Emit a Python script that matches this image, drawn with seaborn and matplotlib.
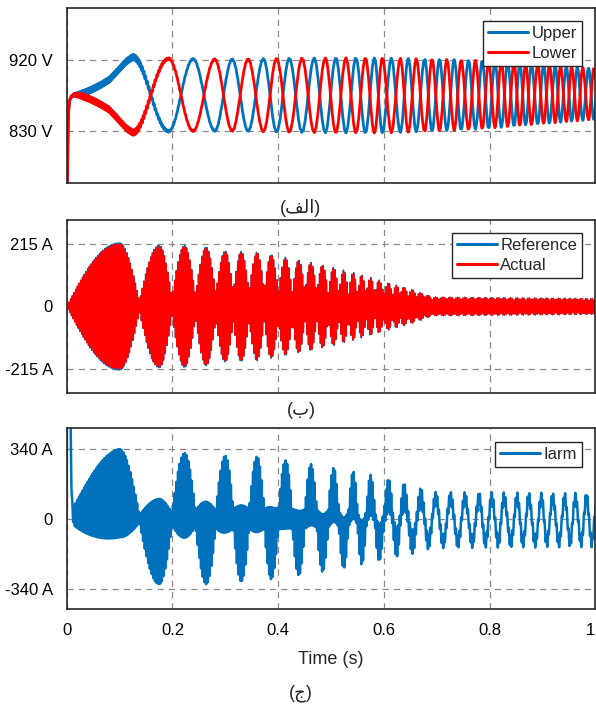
import numpy as np
import pandas as pd
import matplotlib
matplotlib.use('Agg')
import matplotlib.pyplot as plt
import seaborn as sns

# ---------------- values ----------------
time_ticks = [0, 0.2, 0.4, 0.6, 0.8, 1.0]
time_tick_labels = ['0', '0.2', '0.4', '0.6', '0.8', '1']
volt_ticks = [830, 920]
volt_tick_labels = ['830 V', '920 V']
circ_ticks = [-215, 0, 215]
circ_tick_labels = ['-215 A', '0', '215 A']
arm_ticks = [-340, 0, 340]
arm_tick_labels = ['-340 A', '0', '340 A']

# Upper capacitor voltage: crest (even index) / trough (odd index) times
volt_ext_t = [0.125, 0.193, 0.239, 0.280, 0.313, 0.343, 0.372, 0.397, 0.421, 0.445,
              0.468, 0.489, 0.509, 0.528, 0.547, 0.565, 0.582, 0.597, 0.614, 0.631,
              0.646, 0.661, 0.677, 0.691, 0.705, 0.719, 0.733, 0.746, 0.760, 0.773,
              0.786, 0.798, 0.810, 0.822, 0.834, 0.846, 0.857, 0.868, 0.879, 0.891,
              0.902, 0.913, 0.924, 0.934, 0.945, 0.955, 0.966, 0.976, 0.987, 0.997]
# swing of Upper/Lower around the mid level
volt_env_t = [0.01, 0.045, 0.08, 0.113, 0.125, 0.19, 0.3, 0.5, 0.6, 0.7, 0.78, 0.9, 1.0]
volt_env = [0, 13, 23, 43, 48, 46, 45, 47, 47, 45, 43, 37, 32]
# mid level (start-up from below the axis)
volt_mid_t = [0, 0.0015, 0.003, 0.005, 0.008, 0.014, 0.6, 1.0]
volt_mid = [700, 790, 850, 868, 873, 876, 875, 877]
# thickness of the voltage traces (switching ripple)
volt_rip_t = [0, 0.03, 0.14, 0.2, 1.0]
volt_rip = [0, 3.5, 3.5, 0.8, 0.5]

# slow arm-current crests (even) / troughs (odd) = lobe centres of middle panel
cur_ext_t = [0.100, 0.175, 0.223, 0.264, 0.300, 0.330, 0.360, 0.387, 0.414, 0.439,
             0.462, 0.484, 0.505, 0.524, 0.542, 0.558, 0.575, 0.591, 0.609, 0.624,
             0.638, 0.654, 0.670, 0.684, 0.698, 0.712, 0.726, 0.740, 0.753, 0.767,
             0.780, 0.792, 0.804, 0.816, 0.827, 0.840, 0.852, 0.863, 0.874, 0.886,
             0.898, 0.908, 0.919, 0.931, 0.942, 0.952, 0.962, 0.973, 0.983, 0.993]
# lobe heights of the circulating current
circ_env_t = [0, 0.1, 0.175, 0.223, 0.264, 0.3, 0.36, 0.414, 0.462, 0.505, 0.542,
              0.575, 0.609, 0.654, 0.692, 1.0]
circ_env = [215, 215, 207, 206, 201, 187, 184, 166, 149, 132, 115, 98, 80, 57, 32, 27]
# neck height between lobes (fraction of lobe height)
circ_floor_t = [0, 0.15, 0.3, 0.55, 0.62, 0.7, 1.0]
circ_floor = [0.0, 0.1, 0.25, 0.35, 0.5, 0.75, 0.75]
carrier_hz = 310

# arm current slow component
arm_amp_t = [0, 0.05, 0.1, 0.175, 0.3, 0.6, 0.7, 1.0]
arm_amp = [60, 100, 125, 110, 120, 115, 105, 105]
arm_off_t = [0, 0.6, 0.7, 1.0]
arm_off = [0, 0, -6, -6]
spike_t = [0, 0.0005, 0.007, 0.0085, 0.0105, 0.013]
spike_v = [0, 700, 520, 200, 40, 0]

captions = ['(\ufed2\ufedf\ufe8d)', '(\ufe8f)', '(\ufe9d)']

BLUE = '#0072BD'
RED = '#FF0000'

# ---------------- build the traces ----------------
t = np.linspace(0, 1, 30001)


def phase(tt, ext_t, t0, p0, p1):
    kt = [t0] + list(ext_t)
    kp = [p0] + [p1 + k * np.pi for k in range(len(ext_t))]
    slope = np.pi / (ext_t[-1] - ext_t[-2])
    kt.append(1.01)
    kp.append(kp[-1] + slope * (1.01 - ext_t[-1]))
    return np.interp(tt, kt, kp)


carrier = np.sin(2 * np.pi * carrier_hz * t)

th_v = phase(t, volt_ext_t, 0.01, 0.0, np.pi / 2)
swing = np.interp(t, volt_env_t, volt_env) * np.sin(th_v)
ripple = np.interp(t, volt_rip_t, volt_rip) * carrier
mid = np.interp(t, volt_mid_t, volt_mid)
upper = mid + swing + ripple
lower = mid - swing - ripple

th_c = phase(t, cur_ext_t, 0.0, -np.pi / 2, 0.0)
floor = np.interp(t, circ_floor_t, circ_floor)
modul = floor + (1 - floor) * np.abs(np.cos(th_c))
actual = np.interp(t, circ_env_t, circ_env) * modul * carrier
reference = 1.02 * actual

slow = np.interp(t, arm_amp_t, arm_amp) * np.cos(th_c)
iarm = slow + actual + np.interp(t, arm_off_t, arm_off) + np.interp(t, spike_t, spike_v)

df = pd.DataFrame({'t': t, 'Upper': upper, 'Lower': lower, 'Reference': reference,
                   'Actual': actual, 'Iarm': iarm})

# ---------------- style ----------------
sns.set_theme(style='white')
plt.rcParams['font.family'] = ['Liberation Sans', 'DejaVu Sans']
plt.rcParams['xtick.direction'] = 'in'
plt.rcParams['ytick.direction'] = 'in'

fig = plt.figure(figsize=(5.96, 7.05), dpi=100)
fig.patch.set_facecolor('white')

ax1 = fig.add_axes([0.112, 0.7404, 0.887, 0.2483])
ax2 = fig.add_axes([0.112, 0.4426, 0.887, 0.2454])
ax3 = fig.add_axes([0.112, 0.1357, 0.887, 0.2567])

sns.lineplot(data=df, x='t', y='Upper', ax=ax1, color=BLUE, lw=2.0, label='Upper',
             estimator=None, sort=False)
sns.lineplot(data=df, x='t', y='Lower', ax=ax1, color=RED, lw=2.0, label='Lower',
             estimator=None, sort=False)
sns.lineplot(data=df, x='t', y='Reference', ax=ax2, color=BLUE, lw=1.0, label='Reference',
             estimator=None, sort=False)
sns.lineplot(data=df, x='t', y='Actual', ax=ax2, color=RED, lw=1.0, label='Actual',
             estimator=None, sort=False)
sns.lineplot(data=df, x='t', y='Iarm', ax=ax3, color=BLUE, lw=1.8, label='Iarm',
             estimator=None, sort=False)

ax1.set_ylim(764, 986)
ax1.set_yticks(volt_ticks, volt_tick_labels)
ax2.set_ylim(-298, 298)
ax2.set_yticks(circ_ticks, circ_tick_labels)
ax3.set_ylim(-440, 440)
ax3.set_yticks(arm_ticks, arm_tick_labels)

for i, ax in enumerate([ax1, ax2, ax3]):
    ax.set_xlim(0, 1)
    ax.set_xticks(time_ticks)
    if i < 2:
        ax.set_xticklabels([])
    else:
        ax.set_xticklabels(time_tick_labels)
    ax.set_xlabel('')
    ax.set_ylabel('')
    ax.grid(True, linestyle=(0, (5, 4)), color='#8a8a8a', lw=0.9)
    for s in ax.spines.values():
        s.set_color('#262626')
        s.set_linewidth(1.2)
    ax.tick_params(axis='both', labelsize=12, colors='#262626', length=4, width=1,
                   labelcolor='black')
    ax.tick_params(axis='y', pad=10)
    ax.tick_params(axis='x', pad=10)
    leg = ax.legend(loc='upper right', fontsize=12, frameon=True, fancybox=False,
                    framealpha=1, edgecolor='#262626', borderaxespad=0.8,
                    handlelength=2.4, handletextpad=0.2, labelspacing=0.3,
                    borderpad=0.3)
    leg.get_frame().set_linewidth(1.0)
    for h in leg.get_lines():
        h.set_linewidth(2.2)

# last time label sits right at the figure edge; keep it inside
ax3.get_xticklabels()[-1].set_horizontalalignment('right')

ax3.set_xlabel('Time (s)', fontsize=13, labelpad=9)

fig.text(0.505, 0.705, captions[0], ha='center', va='center', fontsize=13)
fig.text(0.505, 0.418, captions[1], ha='center', va='center', fontsize=13)
fig.text(0.505, 0.017, captions[2], ha='center', va='center', fontsize=13)

fig.savefig('out.png', dpi=100, facecolor='white')
